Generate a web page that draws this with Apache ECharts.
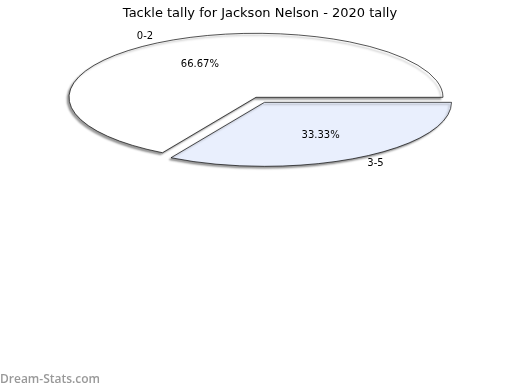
<!DOCTYPE html>
<html>
<head>
<meta charset="utf-8">
<script src="https://cdn.jsdelivr.net/npm/echarts@6/dist/echarts.min.js"></script>
<style>
html,body{margin:0;padding:0;background:#fff;}
#chart{width:520px;height:390px;}
</style>
</head>
<body>
<div id="chart"></div>
<script>
const titleText = 'Tackle tally for Jackson Nelson - 2020 tally';
const categories = ['0-2', '3-5'];
const values = [2, 1];
const sliceColors = ['#ffffff', '#e9effd'];
const explode = [0, 1];
const watermark = 'Dream-Stats.com';

const CX = 256, CY = 97.3, RX = 187, RY = 64;
const START_DEG = 120;
const EXPLODE_DIST = 17;
const FONT = '"DejaVu Sans", sans-serif';

const total = values.reduce((a, b) => a + b, 0);

function renderItem(params, api) {
  const i = params.dataIndex;
  const v = api.value(1);
  let before = 0;
  for (let k = 0; k < i; k++) before += values[k];
  const a0 = (START_DEG + before / total * 360) * Math.PI / 180;
  const a1 = (START_DEG + (before + v) / total * 360) * Math.PI / 180;
  const mid = (a0 + a1) / 2;
  const cm = Math.cos(mid), sm = Math.sin(mid);
  const ox = explode[i] ? EXPLODE_DIST * cm : 0;
  const oy = explode[i] ? EXPLODE_DIST * sm * RY / RX : 0;
  const cx = CX + ox, cy = CY + oy;
  const pct = (v / total * 100).toFixed(2) + '%';
  const nx = cx + RX * 1.1 * cm, ny = cy + RY * 1.1 * sm;
  return {
    type: 'group',
    children: [
      {
        type: 'sector',
        x: cx, y: cy,
        scaleX: 1, scaleY: RY / RX,
        shape: { cx: 0, cy: 0, r: RX, r0: 0, startAngle: a0, endAngle: a1, clockwise: true },
        style: {
          fill: sliceColors[i], stroke: '#000', lineWidth: 1, strokeNoScale: true,
          shadowColor: 'rgba(0,0,0,0.4)', shadowBlur: 2, shadowOffsetX: -2, shadowOffsetY: 2
        }
      },
      {
        type: 'text',
        x: cx + RX * 0.6 * cm, y: cy + RY * 0.6 * sm,
        style: { text: pct, fill: '#000', font: '10px ' + FONT, align: 'center', verticalAlign: 'middle' }
      },
      {
        type: 'text',
        x: nx, y: ny,
        style: { text: categories[i], fill: '#000', font: '10px ' + FONT,
          align: cm < 0 ? 'right' : 'left', verticalAlign: 'middle' }
      }
    ]
  };
}

const chart = echarts.init(document.getElementById('chart'), null, { renderer: 'canvas' });
chart.setOption({
  animation: false,
  backgroundColor: '#ffffff',
  title: {
    text: titleText, left: 'center', top: 2,
    textStyle: { fontFamily: FONT, fontSize: 13, fontWeight: 'normal', color: '#000' }
  },
  graphic: [{
    type: 'text', left: 0, top: 374,
    style: { text: watermark, fill: '#999999', font: '600 12px "Open Sans", sans-serif' }
  }],
  series: [{
    type: 'custom',
    coordinateSystem: 'none',
    renderItem: renderItem,
    data: categories.map((c, i) => [i, values[i]])
  }]
});
</script>
</body>
</html>
